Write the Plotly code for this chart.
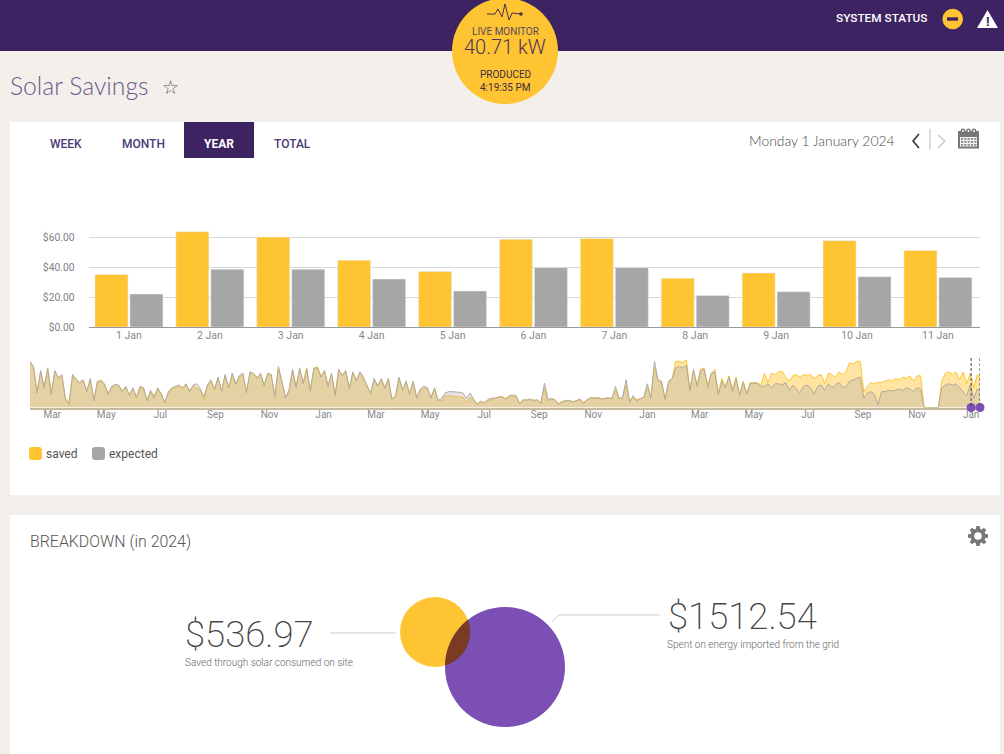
import numpy as np
import plotly.graph_objects as go

# main bars
days = ["1 Jan", "2 Jan", "3 Jan", "4 Jan", "5 Jan", "6 Jan", "7 Jan", "8 Jan", "9 Jan", "10 Jan", "11 Jan"]
saved = [35, 63.5, 60, 44.5, 37, 58.5, 59, 32.5, 36, 57.5, 51]
expected = [22, 38.5, 38.5, 32, 24, 39.5, 39.5, 21, 23.5, 33.5, 33]
money_ticks = [0, 20, 40, 60]
money_labels = ["$0.00", "$20.00", "$40.00", "$60.00"]

# overview strip, one reading every 4 days from 4 Feb 2021
overview_start = "2021-02-04"
overview_expected = [
    70, 62, 22, 56, 30, 60, 20, 56, 44, 50,
    12, 5, 50, 42, 38, 42, 24, 44, 10, 40,
    40, 36, 20, 32, 35, 34, 24, 32, 18, 30,
    16, 32, 30, 10, 26, 14, 30, 20, 8, 24,
    30, 32, 34, 30, 36, 24, 34, 36, 28, 16,
    34, 42, 28, 46, 24, 50, 30, 52, 36, 48,
    52, 22, 54, 52, 44, 52, 34, 52, 50, 16,
    62, 40, 14, 26, 58, 30, 60, 36, 58, 26,
    60, 60, 46, 56, 32, 52, 18, 58, 48, 56,
    28, 54, 40, 54, 46, 32, 22, 44, 32, 44,
    30, 44, 12, 18, 46, 26, 40, 20, 40, 14,
    28, 32, 30, 14, 30, 10, 14, 22, 24, 24,
    24, 23, 22, 14, 22, 14, 4, 10, 6, 12,
    14, 14, 16, 17, 12, 18, 19, 18, 5, 12,
    11, 13, 10, 12, 6, 37, 12, 14, 11, 5,
    9, 10, 11, 8, 11, 13, 6, 12, 15, 14,
    15, 13, 14, 15, 13, 32, 14, 15, 42, 8,
    18, 10, 13, 16, 36, 14, 70, 42, 40, 12,
    40, 44, 60, 62, 60, 64, 25, 58, 32, 56,
    58, 30, 52, 54, 20, 40, 30, 46, 24, 44,
    18, 38, 20, 36, 38, 36, 32, 32, 36, 30,
    36, 36, 34, 38, 26, 34, 28, 22, 32, 34,
    30, 20, 32, 34, 26, 36, 30, 34, 38, 30,
    32, 40, 42, 44, 46, 14, 22, 24, 20, 4,
    24, 24, 26, 25, 26, 28, 26, 30, 28, 24,
    30, 28, 0, 0, 0, 0, 0, 30, 34, 36,
    34, 36, 30, 24, 18, 34, 14, 28, 24,
]
overview_saved = [
    68, 60, 24, 54, 32, 58, 22, 54, 46, 48,
    14, 8, 48, 44, 36, 40, 26, 42, 12, 38,
    42, 34, 22, 30, 33, 32, 26, 30, 20, 28,
    14, 30, 28, 12, 24, 18, 28, 22, 6, 22,
    28, 30, 32, 28, 34, 26, 32, 30, 26, 12,
    32, 40, 26, 44, 26, 48, 28, 50, 34, 46,
    50, 24, 52, 50, 46, 50, 32, 50, 48, 18,
    60, 38, 16, 24, 56, 32, 58, 38, 60, 24,
    58, 62, 48, 54, 34, 50, 20, 56, 50, 54,
    30, 52, 42, 52, 44, 34, 20, 42, 34, 42,
    28, 42, 14, 16, 44, 28, 38, 22, 38, 16,
    26, 30, 28, 16, 28, 12, 10, 18, 18, 17,
    16, 16, 16, 8, 16, 12, 6, 8, 8, 10,
    12, 14, 16, 15, 14, 16, 17, 16, 7, 10,
    12, 11, 12, 10, 8, 30, 10, 13, 12, 6,
    8, 11, 10, 9, 10, 12, 8, 11, 14, 15,
    14, 14, 13, 14, 14, 26, 13, 14, 34, 10,
    16, 12, 14, 15, 30, 16, 60, 40, 38, 14,
    38, 44, 70, 70, 68, 72, 28, 56, 34, 58,
    60, 34, 50, 58, 22, 44, 32, 48, 28, 46,
    20, 40, 22, 38, 36, 38, 34, 52, 38, 52,
    50, 54, 55, 46, 40, 48, 50, 46, 50, 48,
    50, 44, 48, 50, 36, 52, 50, 46, 54, 50,
    54, 68, 66, 70, 70, 24, 32, 38, 36, 38,
    38, 40, 42, 40, 44, 42, 46, 44, 48, 40,
    48, 48, 0, 0, 0, 0, 0, 40, 52, 54,
    50, 54, 42, 54, 36, 52, 30, 50, 42,
]
window = ["2024-01-01", "2024-01-11"]
overview_months = ["2021-03-01", "2024-01-11"]

W, H = 1004, 754
PURPLE = "#3d2362"
GOLD = "#ffc431"
GREY = "#a6a6a6"
VIOLET = "#7b4fb3"


def px(x):
    return x / W


def py(y):
    return 1 - y / H


shapes = []
annotations = []


def rect(x0, y0, x1, y1, color, layer="below"):
    shapes.append(dict(type="rect", xref="paper", yref="paper", x0=px(x0), x1=px(x1), y0=py(y0), y1=py(y1),
                       fillcolor=color, line_width=0, layer=layer))


def circle(cx, cy, r, color, layer="above"):
    shapes.append(dict(type="circle", xref="paper", yref="paper", x0=px(cx - r), x1=px(cx + r), y0=py(cy - r), y1=py(cy + r),
                       fillcolor=color, line_width=0, layer=layer))


def poly(points, color=None, line=None, width=1, close=False):
    d = "M" + " L".join("%.4f,%.4f" % (px(x), py(y)) for x, y in points)
    if close:
        d += " Z"
    shapes.append(dict(type="path", xref="paper", yref="paper", path=d, fillcolor=color,
                       line=dict(color=line, width=width if line else 0), layer="above"))


def swatch(x0, y0, x1, y1, color, r=3):
    d = "M%f,%f L%f,%f Q%f,%f %f,%f L%f,%f Q%f,%f %f,%f L%f,%f Q%f,%f %f,%f L%f,%f Q%f,%f %f,%f Z" % (
        px(x0 + r), py(y0), px(x1 - r), py(y0), px(x1), py(y0), px(x1), py(y0 + r),
        px(x1), py(y1 - r), px(x1), py(y1), px(x1 - r), py(y1),
        px(x0 + r), py(y1), px(x0), py(y1), px(x0), py(y1 - r),
        px(x0), py(y0 + r), px(x0), py(y0), px(x0 + r), py(y0))
    shapes.append(dict(type="path", xref="paper", yref="paper", path=d, fillcolor=color, line_width=0, layer="above"))


def text(x, y, s, size, color, anchor="left", family="Roboto", weight=None):
    # annotations sit about a pixel right of where they are asked to
    annotations.append(dict(xref="paper", yref="paper", x=px(x - 1 if anchor == "left" else x), y=py(y), text=s,
                            showarrow=False, xanchor=anchor, yanchor="middle", borderpad=0,
                            font=dict(size=size, color=color, family=family, weight=weight)))


# page furniture
rect(0, 0, W, H, "#f3f0eb")
rect(0, 0, W, 51, PURPLE)
rect(10, 122, 1000, 495, "white")
rect(10, 515, 1000, H, "white")
rect(184, 122, 254, 158, PURPLE)

circle(505, 51, 53, GOLD)
poly([(487, 14), (495, 14), (498, 9), (502, 17), (505, 4), (509, 20), (512, 13), (521, 14)], line="#4a2f4f", width=1)
circle(521, 14, 1.8, "#4a2f4f")
text(505, 31, "LIVE MONITOR", 10, "#5b4560", "center")
text(505, 47, "40.71 kW", 20, "#4d3558", "center", weight=300)
text(505, 75, "PRODUCED", 10, "#3f2a45", "center", weight=400)
text(505, 87, "4:19:35 PM", 10, "#3f2a45", "center", weight=400)

text(836, 18, "SYSTEM STATUS", 11.8, "white", weight=500)
circle(952.7, 19, 10.3, GOLD)
rect(947, 17.3, 958, 20.7, PURPLE, layer="above")
poly([(987.5, 10), (998, 28), (977, 28)], color="white", close=True)
text(987.5, 21, "<b>!</b>", 13, PURPLE, "center")

text(10, 86, "Solar Savings", 24.7, "#6b5a8c", family="Lato", weight=300)
text(170, 87, "☆", 19, "#555555", "center", family="DejaVu Sans")

for lab, cx, col, wt in [("WEEK", 65.5, "#4a3a78", 500), ("MONTH", 143, "#4a3a78", 500),
                         ("YEAR", 219, "white", 700), ("TOTAL", 292, "#4a3a78", 500)]:
    text(cx, 144, lab, 12, col, "center", weight=wt)

text(749, 140.5, "Monday 1 January 2024", 13.9, "#4a4a4a", family="Lato", weight=300)
poly([(919, 134), (913, 141), (919, 148)], line="#333333", width=1.6)
rect(929, 129, 931, 150, "#dddddd", layer="above")
poly([(938, 135), (945, 141), (938, 148)], line="#c4c4c4", width=1.2)

# calendar icon
rect(958, 131, 979, 148.5, "#777777", layer="above")
rect(960, 137, 977, 146.5, "#f4f4f4", layer="above")
for gx in (961, 964.3, 967.6, 970.9, 974.2):
    for gy in (138, 141, 144):
        rect(gx, gy, gx + 2.2, gy + 1.8, "#8a8a8a", layer="above")
for gx in (963, 968.5, 974):
    circle(gx, 131, 2.4, "#777777")
    circle(gx, 131, 1, "white")

text(30, 541, "BREAKDOWN (in 2024)", 15.9, "#555555", weight=300)

# settings gear
teeth = 8
gear = []
for k in range(teeth):
    t = 2 * np.pi * k / teeth
    for off, r in [(-0.27, 7.6), (-0.17, 10.2), (0.17, 10.2), (0.27, 7.6)]:
        gear.append((978 + r * np.cos(t + off), 536 + r * np.sin(t + off)))
poly(gear, color="#777777", close=True)
circle(978, 536, 3.8, "white")

# overview legend
swatch(29, 447, 42, 460, GOLD)
swatch(92, 447, 105, 460, GREY)
text(46, 453.5, "saved", 12, "#555555")
text(109, 453.5, "expected", 12, "#555555")

# breakdown venn
ca, ra = (435, 632), 35
cb, rb = (505, 667), 60
circle(ca[0], ca[1], ra, GOLD)
circle(cb[0], cb[1], rb, VIOLET)
d = np.hypot(cb[0] - ca[0], cb[1] - ca[1])
toward = np.arctan2(cb[1] - ca[1], cb[0] - ca[0])
a = (d ** 2 + ra ** 2 - rb ** 2) / (2 * d)
alpha = np.arccos(a / ra)
beta = np.arccos((d - a) / rb)
lens = [(ca[0] + ra * np.cos(t), ca[1] + ra * np.sin(t)) for t in np.linspace(toward - alpha, toward + alpha, 30)]
lens += [(cb[0] + rb * np.cos(t), cb[1] + rb * np.sin(t)) for t in np.linspace(toward + np.pi - beta, toward + np.pi + beta, 30)]
poly(lens, color="#7a3b22", close=True)

poly([(330, 633), (396, 633)], line="#cccccc", width=1)
poly([(552, 622), (559, 615), (660, 615)], line="#cccccc", width=1)
text(185, 634, "$536.97", 36.5, "#444444", weight=200)
text(185, 662, "Saved through solar consumed on site", 10, "#666666", weight=300)
text(668, 616, "$1512.54", 36.5, "#444444", weight=200)
text(667, 644, "Spent on energy imported from the grid", 10, "#666666", weight=300)

# window markers on the overview
for w in window:
    shapes.append(dict(type="line", xref="x2", yref="paper", x0=w, x1=w, y0=py(358), y1=py(407.5),
                       line=dict(color="#444444", width=1, dash="3px,2px"), layer="above"))

fig = go.Figure()
fig.add_bar(x=days, y=saved, name="saved", marker_color=GOLD, xaxis="x", yaxis="y")
fig.add_bar(x=days, y=expected, name="expected", marker_color=GREY, xaxis="x", yaxis="y")

dates = np.datetime64(overview_start) + np.arange(len(overview_expected)) * np.timedelta64(4, "D")
fig.add_scatter(x=dates, y=overview_saved, mode="lines", line=dict(color=GOLD, width=1),
                fill="tozeroy", fillcolor="rgba(255,196,49,0.45)", xaxis="x2", yaxis="y2")
fig.add_scatter(x=dates, y=overview_expected, mode="lines", line=dict(color="#b0aa9f", width=1),
                fill="tozeroy", fillcolor="rgba(169,169,169,0.3)", xaxis="x2", yaxis="y2")
fig.add_scatter(x=window, y=[0, 0], mode="markers", marker=dict(color=VIOLET, size=9), cliponaxis=False,
                xaxis="x2", yaxis="y2")

fig.update_layout(
    width=W, height=H, autosize=False, showlegend=False,
    margin=dict(l=0, r=0, t=0, b=0, pad=0),
    paper_bgcolor="#f3f0eb", plot_bgcolor="rgba(0,0,0,0)",
    font=dict(family="Roboto", size=10, color="#888888"),
    barmode="group", bargap=0.135, bargroupgap=0.057,
    shapes=shapes, annotations=annotations,
    xaxis=dict(domain=[px(88.5), px(980)], anchor="y", automargin=False, range=[-0.5, 10.52], showline=True,
               linecolor="#999999", ticks="", showgrid=False, ticklabelstandoff=-2,
               tickfont=dict(size=10.5, color="#888888")),
    yaxis=dict(domain=[py(327), py(207)], anchor="x", automargin=False, range=[0, 80], tickvals=money_ticks,
               ticktext=money_labels, gridcolor="#d8d8d8", gridwidth=1, zeroline=False, ticklabelstandoff=13,
               tickfont=dict(size=10.3, color="#808080")),
    xaxis2=dict(domain=[px(30), px(980)], anchor="y2", automargin=False, type="date", range=["2021-02-04", window[1]],
                tick0=overview_months[0], dtick="M2", tickformat="%b", showgrid=False, ticks="", ticklabelstandoff=-3,
                showline=True, linecolor="#c4bb9f", linewidth=1.5, layer="below traces",
                tickfont=dict(size=10, color="#888888")),
    yaxis2=dict(domain=[py(407.5), py(360)], anchor="x2", automargin=False, range=[0, 72], visible=False),
)

fig.write_html("out.html", config=dict(displayModeBar=False),
               post_script='document.body.style.margin="0";document.body.style.overflow="hidden";')
